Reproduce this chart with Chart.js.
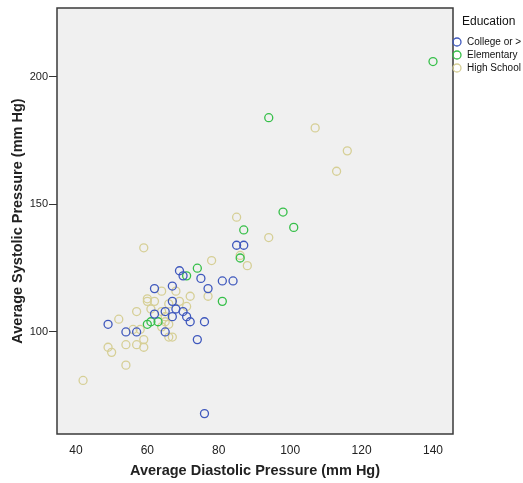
<!DOCTYPE html>
<html lang="en">
<head>
    <meta charset="UTF-8">
    <title>Systolic vs Diastolic Pressure by Education</title>
    <script src="https://cdn.jsdelivr.net/npm/chart.js"></script>
    <style>
        body { margin: 0; background: #fff; }
        #wrap { width: 523px; height: 483px; }
    </style>
</head>
<body>
    <div id="wrap"><canvas id="bpChart" width="523" height="483"></canvas></div>

    <script>
        // Average diastolic (x) and systolic (y) pressure, mm Hg, per education group
        const collegeDia = [49, 54, 57, 62, 62, 65, 65, 67, 67, 67, 68, 69, 70, 70, 71, 72, 74, 75, 76, 77, 81, 84, 85, 87, 76];
        const collegeSys = [103, 100, 100, 117, 107, 108, 100, 118, 112, 106, 109, 124, 122, 108, 106, 104, 97, 121, 104, 117, 120, 120, 134, 134, 68];

        const elementaryDia = [60, 61, 63, 71, 74, 81, 86, 87, 94, 98, 101, 140];
        const elementarySys = [103, 104, 104, 122, 125, 112, 129, 140, 184, 147, 141, 206];

        const highSchoolDia = [42, 49, 50, 52, 54, 54, 56, 57, 57, 58, 59, 59, 59, 60, 60, 61, 62, 64, 64, 64,
                               65, 65, 66, 66, 66, 67, 68, 69, 71, 72, 77, 78, 85, 86, 88, 94, 107, 113, 116];
        const highSchoolSys = [81, 94, 92, 105, 95, 87, 101, 108, 95, 101, 97, 94, 133, 113, 112, 109, 112, 116, 108, 102,
                               106, 104, 111, 103, 98, 98, 116, 112, 110, 114, 114, 128, 145, 130, 126, 137, 180, 163, 171];

        const groupNames = ['College or >', 'Elementary', 'High School'];
        const groupColors = ['#3f58bd', '#35bf48', '#d6cf96'];

        const xTicks = [40, 60, 80, 100, 120, 140];
        const yTicks = [100, 150, 200];

        function toPoints(xs, ys) {
            return xs.map((x, i) => ({ x: x, y: ys[i] }));
        }

        const groups = [
            toPoints(collegeDia, collegeSys),
            toPoints(elementaryDia, elementarySys),
            toPoints(highSchoolDia, highSchoolSys)
        ];

        // grey plot background with a dark frame, plus the legend on the right
        const framePlugin = {
            id: 'frame',
            beforeDatasetsDraw(chart) {
                const { ctx, chartArea: a } = chart;
                ctx.save();
                ctx.fillStyle = '#f0f0f0';
                ctx.fillRect(a.left, a.top, a.right - a.left, a.bottom - a.top);
                ctx.restore();
            },
            afterDraw(chart) {
                const { ctx, chartArea: a } = chart;
                ctx.save();
                ctx.strokeStyle = '#3a3a3a';
                ctx.lineWidth = 1.5;
                ctx.strokeRect(a.left, a.top, a.right - a.left, a.bottom - a.top);

                ctx.fillStyle = '#111';
                ctx.textBaseline = 'middle';
                ctx.font = '12px "Liberation Sans", Arial, sans-serif';
                ctx.fillText('Education', 462, 22);
                ctx.font = '10px "Liberation Sans", Arial, sans-serif';
                groupNames.forEach((name, i) => {
                    const y = 42 + i * 13;
                    ctx.beginPath();
                    ctx.arc(457, y, 4, 0, Math.PI * 2);
                    ctx.strokeStyle = groupColors[i];
                    ctx.lineWidth = 1.3;
                    ctx.stroke();
                    ctx.fillStyle = '#111';
                    ctx.fillText(name, 467, y);
                });
                ctx.restore();
            }
        };

        const ctx = document.getElementById('bpChart').getContext('2d');
        const chart = new Chart(ctx, {
            type: 'scatter',
            data: {
                datasets: groups.map((pts, i) => ({
                    label: groupNames[i],
                    data: pts,
                    pointStyle: 'circle',
                    pointRadius: 4,
                    pointHoverRadius: 4,
                    borderColor: groupColors[i],
                    backgroundColor: 'rgba(0,0,0,0)',
                    borderWidth: 1.3
                }))
            },
            options: {
                responsive: false,
                animation: false,
                layout: { padding: { top: 8, right: 70, left: 0, bottom: 0 } },
                plugins: {
                    legend: { display: false },
                    tooltip: { enabled: false }
                },
                scales: {
                    x: {
                        type: 'linear',
                        min: 34.7,
                        max: 145.6,
                        afterBuildTicks: s => { s.ticks = xTicks.map(v => ({ value: v })); },
                        afterFit: s => { s.height = 49; },
                        grid: { display: false, drawTicks: false },
                        border: { display: false },
                        ticks: {
                            padding: 9,
                            color: '#222',
                            font: { family: '"Liberation Sans", Arial', size: 12 }
                        },
                        title: {
                            display: true,
                            text: 'Average Diastolic Pressure (mm Hg)',
                            color: '#222',
                            padding: { top: 0, bottom: 3 },
                            font: { family: '"Liberation Sans", Arial', size: 14.5, weight: 'bold' }
                        }
                    },
                    y: {
                        type: 'linear',
                        min: 60,
                        max: 227,
                        afterBuildTicks: s => { s.ticks = yTicks.map(v => ({ value: v })); },
                        afterFit: s => { s.width = 57; },
                        grid: { drawOnChartArea: false, drawTicks: true, tickLength: 8, color: '#333' },
                        border: { display: false },
                        ticks: {
                            padding: 1,
                            color: '#222',
                            font: { family: '"Liberation Sans", Arial', size: 11 }
                        },
                        title: {
                            display: true,
                            text: 'Average Systolic Pressure (mm Hg)',
                            color: '#222',
                            padding: { top: 9, bottom: 0 },
                            font: { family: '"Liberation Sans", Arial', size: 14.5, weight: 'bold' }
                        }
                    }
                }
            },
            plugins: [framePlugin]
        });
    </script>
</body>
</html>
